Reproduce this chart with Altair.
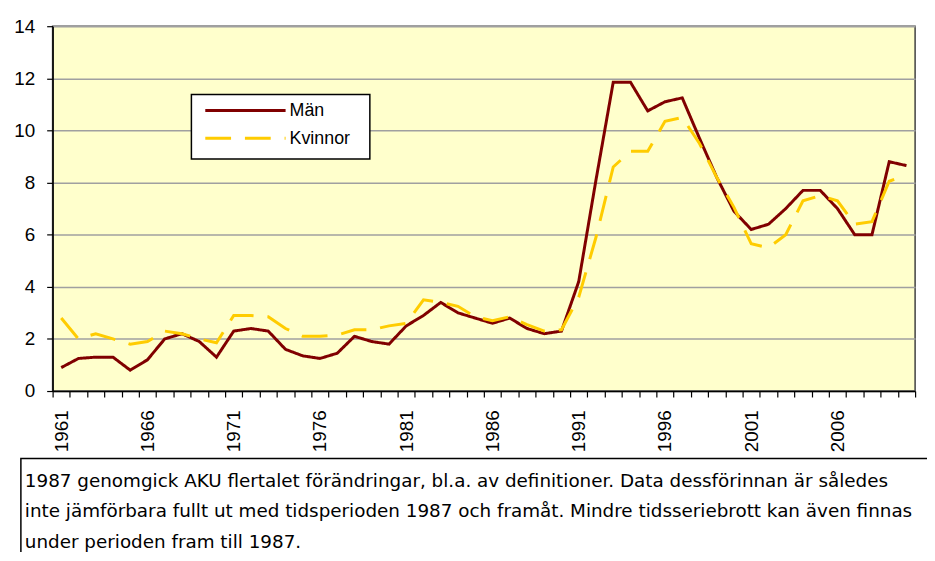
import altair as alt
import pandas as pd

years = list(range(1961, 2011))
man = [0.9, 1.25, 1.3, 1.3, 0.8, 1.2, 2.0, 2.2, 1.9, 1.3,
       2.3, 2.4, 2.3, 1.6, 1.35, 1.25, 1.45, 2.1, 1.9, 1.8,
       2.5, 2.9, 3.4, 3.0, 2.8, 2.6, 2.8, 2.4, 2.2, 2.3,
       4.2, 8.1, 11.85, 11.85, 10.75, 11.1, 11.25, 9.7, 8.2, 6.9,
       6.2, 6.4, 7.0, 7.7, 7.7, 7.0, 6.0, 6.0, 8.8, 8.65]
kvinnor = [2.8, 2.0, 2.2, 2.0, 1.8, 1.9, 2.3, 2.2, 2.0, 1.85,
           2.9, 2.9, 2.85, 2.4, 2.1, 2.1, 2.15, 2.35, 2.35, 2.5,
           2.6, 3.5, 3.4, 3.25, 2.85, 2.7, 2.85, 2.55, 2.3, 2.35,
           3.6, 5.9, 8.6, 9.2, 9.2, 10.35, 10.5, 9.5, 8.2, 7.05,
           5.65, 5.5, 6.0, 7.3, 7.5, 7.3, 6.4, 6.5, 8.05, 8.3]
series = ["Män", "Kvinnor"]
colors = ["#800000", "#FFCC00"]
dashes = [[1, 0], [26, 14]]
y_ticks = [0, 2, 4, 6, 8, 10, 12, 14]
note_lines = [
    "1987 genomgick AKU flertalet förändringar, bl.a. av definitioner. Data dessförinnan är således",
    "inte jämförbara fullt ut med tidsperioden 1987 och framåt. Mindre tidsseriebrott kan även finnas",
    "under perioden fram till 1987.",
]

FONT = "Liberation Sans"
W, H = 870, 368

df = pd.DataFrame({
    "year": years * 2,
    "value": man + kvinnor,
    "serie": [series[0]] * len(years) + [series[1]] * len(years),
})

tick_vals = [years[0] - 0.5 + k for k in range(len(years) + 1)]
label_expr = (f"(datum.value - {years[0] - 0.5}) % 5 == 0 && datum.value < {years[-1]} ? "
              "toString(datum.value + 0.5) : ''")

x_enc = alt.X("year:Q",
              scale=alt.Scale(domain=[years[0] - 0.5, years[-1] + 0.5], nice=False, zero=False),
              axis=alt.Axis(values=tick_vals, labelExpr=label_expr, title=None, grid=False,
                            tickSize=6, tickColor="black", tickWidth=1.2,
                            domainColor="black", domainWidth=1.5,
                            labelAngle=270, labelAlign="right", labelBaseline="middle",
                            labelOffset=W / len(years) / 2, labelPadding=13,
                            labelOverlap=False, labelFont=FONT, labelFontSize=19,
                            labelColor="black"))
y_enc = alt.Y("value:Q",
              scale=alt.Scale(domain=[0, 14], nice=False),
              axis=alt.Axis(values=y_ticks, title=None, grid=True,
                            gridColor="#A0A0A0", gridWidth=1.5,
                            tickSize=6, tickColor="black", tickWidth=1.2,
                            domainColor="black", domainWidth=1.5,
                            labelPadding=12, labelFont=FONT, labelFontSize=19,
                            labelColor="black"))

lines = alt.Chart(df).mark_line(strokeWidth=3).encode(
    x=x_enc, y=y_enc,
    color=alt.Color("serie:N", scale=alt.Scale(domain=series, range=colors), legend=None),
    strokeDash=alt.StrokeDash("serie:N", scale=alt.Scale(domain=series, range=dashes), legend=None),
)

one = pd.DataFrame({"k": [0]})

# legend box
leg_box = alt.Chart(one).mark_rect(fill="white", stroke="black", strokeWidth=1.5).encode(
    x=alt.value(140), x2=alt.value(320), y=alt.value(69), y2=alt.value(134))
leg_layers = [leg_box]
leg_y = [85, 113]
for i, name in enumerate(series):
    leg_layers.append(alt.Chart(one).mark_rule(color=colors[i], strokeWidth=3,
                                               strokeDash=dashes[i]).encode(
        x=alt.value(154), x2=alt.value(235), y=alt.value(leg_y[i])))
    leg_layers.append(alt.Chart(one).mark_text(text=name, font=FONT, fontSize=18,
                                               align="left", baseline="middle",
                                               color="black").encode(
        x=alt.value(239), y=alt.value(leg_y[i] + 1)))

# note box
note_box = alt.Chart(one).mark_rect(fill="white", stroke="black", strokeWidth=1.5).encode(
    x=alt.value(-32), x2=alt.value(920), y=alt.value(436), y2=alt.value(700))
note_text = alt.Chart(one).mark_text(text=note_lines, font="DejaVu Sans", fontSize=18.5,
                                     align="left", baseline="alphabetic",
                                     lineHeight=30.5, color="black").encode(
    x=alt.value(-28), y=alt.value(465))

chart = alt.layer(lines, *leg_layers, note_box, note_text).properties(
    width=W, height=H,
    autosize=alt.AutoSizeParams(type="none"),
    padding={"left": 45, "top": 16, "right": 12, "bottom": 160},
    background="white",
).configure_view(stroke="#404040", strokeWidth=1.5, fill="#FFFFCC")

chart.save("out.html", embed_options={"renderer": "svg", "actions": False})
